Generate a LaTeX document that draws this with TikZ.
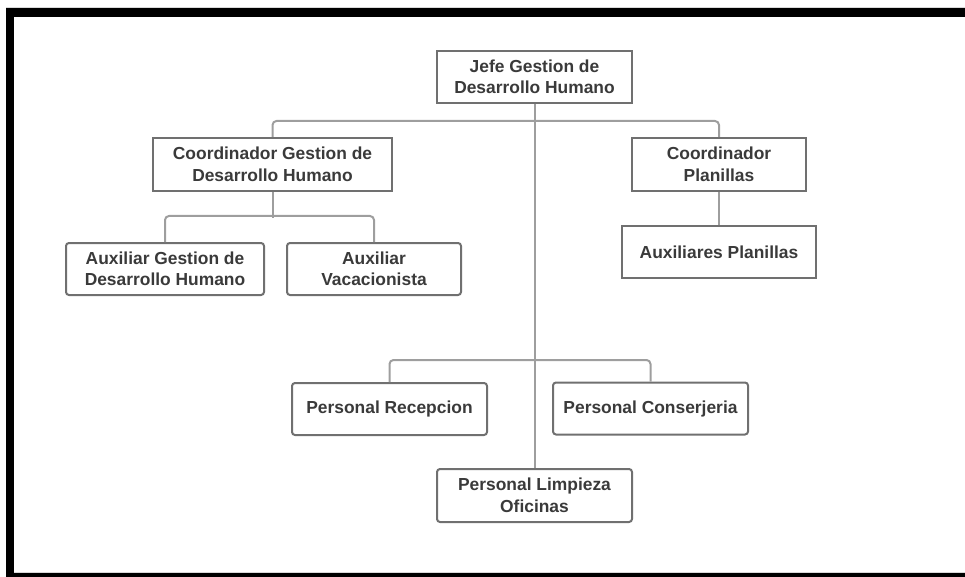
\documentclass[tikz,border=0pt]{standalone}
\usepackage{fontspec}
\setmainfont{Liberation Sans}
\usepackage{tikz}
\usetikzlibrary{positioning,calc}
\definecolor{boxline}{HTML}{707070}
\definecolor{conline}{HTML}{9E9E9E}
\definecolor{txtgray}{HTML}{3A3A3A}

\begin{document}
\begin{tikzpicture}[x=1pt,y=-1pt,
  box/.style={draw=boxline,line width=2pt,fill=white,text=txtgray,
    font=\fontsize{17.4}{21.5}\selectfont\bfseries,align=center,
    inner sep=0pt,minimum height=52pt},
  rbox/.style={box,rounded corners=3pt},
  conn/.style={draw=conline,line width=2pt,rounded corners=4pt}]
  \useasboundingbox (0,0) rectangle (965,577);
  % marco
  \fill[black] (6,8) rectangle (965,17);
  \fill[black] (6,8) rectangle (14,577);
  \fill[black] (6,573) rectangle (965,577);
  \draw[black!15,line width=0.8pt] (6,7.6) -- (965,7.6);
  \draw[black!15,line width=0.8pt] (14,572.6) -- (965,572.6);
  % nodos
  \node[box,minimum width=195pt] (jefe) at (534.5,77) {Jefe Gestion de\\Desarrollo Humano};
  \node[box,minimum width=239pt,minimum height=53pt] (coordgdh) at (272.5,164.5) {Coordinador Gestion de\\Desarrollo Humano};
  \node[box,minimum width=174pt,minimum height=53pt] (coordpla) at (719,164.5) {Coordinador\\Planillas};
  \node[box,minimum width=194pt] (auxpla) at (719,252) {Auxiliares Planillas};
  \node[rbox,minimum width=198pt] (auxgdh) at (165,269) {Auxiliar Gestion de\\Desarrollo Humano};
  \node[rbox,minimum width=174pt] (auxvac) at (374,269) {Auxiliar\\Vacacionista};
  \node[rbox,minimum width=195pt] (recep) at (389.5,409) {Personal Recepcion};
  \node[rbox,minimum width=195pt] (conse) at (650.5,408.5) {Personal Conserjeria};
  \node[rbox,minimum width=195pt,minimum height=53pt] (limp) at (534.5,495.5) {Personal Limpieza\\Oficinas};
  % conectores
  \draw[conn] (jefe.south) -- (limp.north);
  \draw[conn] (coordgdh.north) -- ++(0,-16) -| (coordpla.north);
  \draw[conn] (coordgdh.south) -- ++(0,26);
  \draw[conn] (auxgdh.north) -- ++(0,-26) -| (auxvac.north);
  \draw[conn] (coordpla.south) -- (auxpla.north);
  \draw[conn] (recep.north) -- ++(0,-22) -| (conse.north);
\end{tikzpicture}
\end{document}
